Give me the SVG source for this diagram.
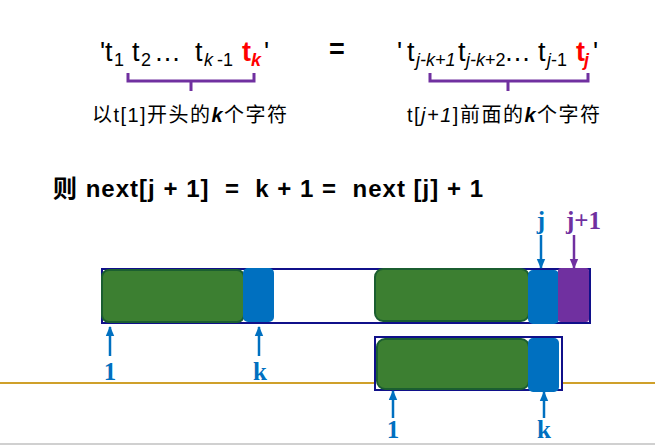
<svg xmlns="http://www.w3.org/2000/svg" width="655" height="445" viewBox="0 0 655 445">
<style>
.f{font-family:"Liberation Sans","Noto Sans CJK SC",sans-serif;fill:#000}
.m{font-size:27px}
.s{font-size:18px}
.i{font-style:italic}
.r{fill:#FF0000;font-weight:bold}
.cj{font-size:20px}
.brk{fill:none;stroke:#7030A0;stroke-width:3}
.outline{fill:#fff;stroke:#10108A;stroke-width:2}
.green{fill:#3C7F31;stroke:#1B5E30;stroke-width:2}
.blue{fill:#0070C0}
.purple{fill:#7030A0}
.lb{font-family:"Liberation Serif",serif;font-weight:bold;font-size:25px;fill:#0070C0}
.lp{fill:#7030A0}
.ab{stroke:#0070C0;stroke-width:2.5;fill:none;marker-end:url(#hb)}
.ap{stroke:#7030A0;stroke-width:2.5;fill:none;marker-end:url(#hp)}
</style>
<defs>
<marker id="hb" markerUnits="userSpaceOnUse" markerWidth="10" markerHeight="10" refX="9" refY="5" orient="auto"><path d="M0,0.8 L10,5 L0,9.2 Z" fill="#0070C0"/></marker>
<marker id="hp" markerUnits="userSpaceOnUse" markerWidth="10" markerHeight="10" refX="9" refY="5" orient="auto"><path d="M0,0.8 L10,5 L0,9.2 Z" fill="#7030A0"/></marker>
</defs>

<g id="left-formula">
<text class="f m" y="61"><tspan x="100">'</tspan><tspan x="105">t</tspan><tspan class="s" x="114" y="66">1</tspan><tspan x="132" y="61">t</tspan><tspan class="s" x="141" y="66">2</tspan><tspan x="154" y="61">…</tspan><tspan x="195" y="61">t</tspan><tspan class="s i" x="204" y="66">k</tspan><tspan class="s" x="217" y="66">-1</tspan><tspan class="r" x="242" y="61">t</tspan><tspan class="s r i" x="251" y="66">k</tspan><tspan x="264" y="61">'</tspan></text>
<path class="brk" d="M128,73 V81 H254 V73 M191,81 V91"/>
<text class="f cj" x="92" y="122" textLength="195" lengthAdjust="spacing">以t[1]开头的<tspan class="i" font-weight="bold">k</tspan>个字符</text>
</g>

<g id="equals">
<text class="f m" x="329" y="58" font-weight="bold">=</text>
</g>

<g id="right-formula">
<text class="f m" y="61"><tspan x="397">'</tspan><tspan x="407">t</tspan><tspan class="s i" x="416" y="66">j-k+1</tspan><tspan x="458" y="61">t</tspan><tspan class="s" x="466" y="66"><tspan class="i">j-k</tspan>+2</tspan><tspan x="504" y="61">…</tspan><tspan x="538" y="61">t</tspan><tspan class="s" x="547" y="66"><tspan class="i">j</tspan>-1</tspan><tspan class="r" x="576" y="61">t</tspan><tspan class="s r i" x="584" y="66">j</tspan><tspan x="593" y="61">'</tspan></text>
<path class="brk" d="M430,73 V81 H588 V73 M508,81 V91"/>
<text class="f cj" x="407" y="122" textLength="193" lengthAdjust="spacing">t[<tspan class="i">j+1</tspan>]前面的<tspan class="i" font-weight="bold">k</tspan>个字符</text>
</g>

<g id="conclusion">
<text class="f" x="53" y="197" font-size="24" font-weight="bold" xml:space="preserve" textLength="430" lengthAdjust="spacing">则 next[j + 1]  =  k + 1 =  next [j] + 1</text>
</g>

<line x1="0" y1="383" x2="655" y2="383" stroke="#CFA02A" stroke-width="2"/>
<line x1="0" y1="444" x2="655" y2="444" stroke="#D0D0D0" stroke-width="2"/>

<g id="main-string">
<rect class="outline" x="102" y="269" width="488" height="54"/>
<rect class="green" x="102" y="270" width="142" height="52" rx="7"/>
<rect class="blue" x="243" y="268" width="31" height="54" rx="5"/>
<rect class="green" x="375" y="269" width="154" height="52" rx="8"/>
<rect class="blue" x="528" y="270" width="31" height="54" rx="5"/>
<rect class="purple" x="558" y="268" width="31" height="54" rx="3"/>
</g>

<g id="pattern-string">
<rect class="outline" x="375" y="337" width="187" height="53"/>
<rect class="green" x="377" y="339" width="152" height="50" rx="8"/>
<rect class="blue" x="528" y="338" width="31" height="54" rx="5"/>
</g>

<g id="connectors">
<line class="ab" x1="110" y1="356" x2="110" y2="327"/>
<line class="ab" x1="259" y1="356" x2="259" y2="327"/>
<line class="ab" x1="541" y1="235" x2="541" y2="268"/>
<line class="ap" x1="574" y1="235" x2="574" y2="268"/>
<line class="ab" x1="393" y1="418" x2="393" y2="391"/>
<line class="ab" x1="544" y1="418" x2="544" y2="392"/>
</g>

<g id="labels">
<text class="lb" x="110" y="380" text-anchor="middle">1</text>
<text class="lb" x="260" y="380" text-anchor="middle">k</text>
<text class="lb" x="541" y="229" text-anchor="middle">j</text>
<text class="lb lp" x="566" y="229">j+1</text>
<text class="lb" x="393" y="438" text-anchor="middle">1</text>
<text class="lb" x="544" y="438" text-anchor="middle">k</text>
</g>
</svg>
